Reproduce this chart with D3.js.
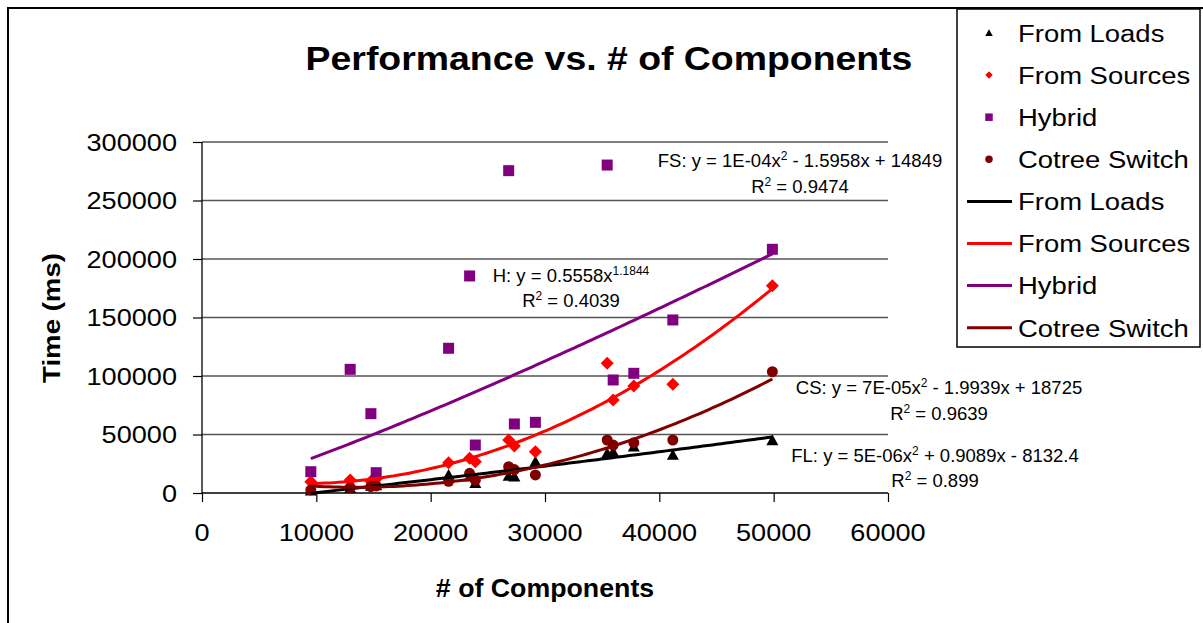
<!DOCTYPE html>
<html>
<head>
<meta charset="utf-8">
<script src="https://cdn.jsdelivr.net/npm/d3@7"></script>
<style>
  html, body { margin: 0; padding: 0; background: #fff; }
  svg { display: block; font-family: "Liberation Sans", Arial, sans-serif; }
</style>
</head>
<body>
<svg id="chart" width="1203" height="623"></svg>
<script>
// ---------------- data ----------------
const components = [9518, 12960, 14772, 15236, 21568, 23406, 23905, 26822, 27320, 29160, 35438, 35963, 37767, 41182, 49886];
const fromLoads    = [2000, 4000, 6000, 6500, 15400, 14000, 8300, 14500, 14000, 26800, 33900, 35000, 39600, 32500, 45000];
const fromSources  = [9700, 11100, 10000, 12000, 25900, 29700, 26800, 45300, 40200, 35300, 110900, 79500, 91500, 92900, 177200];
const hybrid       = [18200, 105700, 67800, 17350, 123700, 185500, 41000, 275500, 59000, 60400, 280300, 96600, 102300, 147900, 208300];
const cotreeSwitch = [2600, 4900, 5500, 6000, 10000, 16800, 11000, 22500, 20000, 15400, 45300, 41000, 43000, 45300, 103700];

const seriesNames = ["From Loads", "From Sources", "Hybrid", "Cotree Switch"];
const seriesColors = ["#000000", "#FF0000", "#800080", "#800000"];
const seriesShapes = ["triangle", "diamond", "square", "circle"];
const fitTypes = ["poly2", "poly2", "power", "poly2"];

const xTicks = [0, 10000, 20000, 30000, 40000, 50000, 60000];
const yTicks = [0, 50000, 100000, 150000, 200000, 250000, 300000];

const titleText = "Performance vs. # of Components";
const xTitle = "# of Components";
const yTitle = "Time (ms)";

// trendline labels: [prefix, superscript, suffix] and R² value
const eqLabels = [
  ["FL: y = 5E-06x", "2", " + 0.9089x - 8132.4"],
  ["FS: y = 1E-04x", "2", " - 1.5958x + 14849"],
  ["H: y = 0.5558x", "1.1844", ""],
  ["CS: y = 7E-05x", "2", " - 1.9939x + 18725"]
];
const r2Labels = ["0.899", "0.9474", "0.4039", "0.9639"];
// label anchor (centre x, baseline of equation line)
const eqPos = [[935, 461.5], [800, 167], [571, 281.5], [939, 394]];

// ---------------- helpers ----------------
function fitPoly2(xs, ys) {
  // normal equations for y = a x^2 + b x + c (scaled x for stability)
  const s = 1e4;
  let S = Array(5).fill(0), T = Array(3).fill(0);
  xs.forEach((x0, i) => {
    const x = x0 / s, y = ys[i];
    for (let k = 0; k < 5; k++) S[k] += Math.pow(x, k);
    for (let k = 0; k < 3; k++) T[k] += y * Math.pow(x, k);
  });
  const A = [[S[4], S[3], S[2], T[2]], [S[3], S[2], S[1], T[1]], [S[2], S[1], S[0], T[0]]];
  for (let i = 0; i < 3; i++) {
    let p = i;
    for (let r = i + 1; r < 3; r++) if (Math.abs(A[r][i]) > Math.abs(A[p][i])) p = r;
    [A[i], A[p]] = [A[p], A[i]];
    for (let r = 0; r < 3; r++) if (r !== i) {
      const f = A[r][i] / A[i][i];
      for (let c = i; c < 4; c++) A[r][c] -= f * A[i][c];
    }
  }
  const a = A[0][3] / A[0][0], b = A[1][3] / A[1][1], c = A[2][3] / A[2][2];
  return x => { const u = x / s; return a * u * u + b * u + c; };
}
function fitPower(xs, ys) {
  const lx = xs.map(Math.log), ly = ys.map(Math.log);
  const n = lx.length, mx = d3.mean(lx), my = d3.mean(ly);
  let num = 0, den = 0;
  for (let i = 0; i < n; i++) { num += (lx[i] - mx) * (ly[i] - my); den += (lx[i] - mx) ** 2; }
  const b = num / den, a = Math.exp(my - b * mx);
  return x => a * Math.pow(x, b);
}

function stretchText(parent, x, y, txt, opt) {
  const g = parent.append("g")
    .attr("transform", `translate(${x},${y}) rotate(${opt.rotate || 0}) scale(${opt.sx || 1},1)`);
  const t = g.append("text")
    .attr("text-anchor", opt.anchor || "start")
    .attr("font-size", opt.size)
    .attr("font-weight", opt.weight || "normal")
    .attr("fill", "#000")
    .text(txt);
  return t;
}

// ---------------- chart ----------------
const svg = d3.select("#chart");
const x = d3.scaleLinear().domain([0, 60000]).range([202, 888]);
const y = d3.scaleLinear().domain([0, 300000]).range([493, 142]);

// outer chart border
svg.append("rect").attr("x", 8).attr("y", 8).attr("width", 1400).attr("height", 800)
  .attr("fill", "#fff").attr("stroke", "#000").attr("stroke-width", 2);

// gridlines
svg.append("g").selectAll("line").data(yTicks.filter(d => d > 0)).join("line")
  .attr("x1", x(0)).attr("x2", x(60000)).attr("y1", d => y(d)).attr("y2", d => y(d))
  .attr("stroke", "#555").attr("stroke-width", 1.3);

// axes
const yAxis = d3.axisLeft(y).tickValues(yTicks).tickSize(9).tickFormat(d3.format("d"));
const gy = svg.append("g").attr("transform", `translate(${x(0)},0)`).call(yAxis);
const xAxis = d3.axisBottom(x).tickValues(xTicks).tickSize(9).tickFormat(d3.format("d"));
const gx = svg.append("g").attr("transform", `translate(0,${y(0)})`).call(xAxis);
[gx, gy].forEach(g => {
  g.selectAll(".domain").attr("stroke", "#000").attr("stroke-width", 1.3);
  g.selectAll(".tick line").attr("stroke", "#000").attr("stroke-width", 1.2);
  g.selectAll(".tick text").remove();
});
// domain path for axisBottom includes outer ticks; redraw clean
gx.select(".domain").attr("d", `M${x(0)},0H${x(60000)}`);
gy.select(".domain").attr("d", `M0,${y(300000)}V${y(0)}`);

// tick labels (stretched like the original rendering)
yTicks.forEach(v => stretchText(svg, 177, y(v) + 8.5, String(v), { size: 24, anchor: "end", sx: 1.13 }));
xTicks.forEach(v => stretchText(svg, x(v), 541, String(v), { size: 24, anchor: "middle", sx: 1.13 }));

// titles
stretchText(svg, 609, 70, titleText, { size: 34, weight: "bold", anchor: "middle", sx: 1.1 });
stretchText(svg, 545, 597, xTitle, { size: 25, weight: "bold", anchor: "middle", sx: 1.07 });
stretchText(svg, 60, 318, yTitle, { size: 24, weight: "bold", anchor: "middle", sx: 1.15, rotate: -90 });

// markers
const allSeries = [fromLoads, fromSources, hybrid, cotreeSwitch];
function markerPath(shape, size) {
  const h = size / 2;
  if (shape === "triangle") return `M0,${-h}L${h},${h * 0.8}L${-h},${h * 0.8}Z`;
  if (shape === "diamond") return `M0,${-h}L${h},0L0,${h}L${-h},0Z`;
  if (shape === "square") return `M${-h},${-h}H${h}V${h}H${-h}Z`;
  return d3.symbol(d3.symbolCircle, Math.PI * h * h)();
}
const markerSizes = [12, 13, 11, 11];
allSeries.forEach((vals, si) => {
  svg.append("g").selectAll("path").data(vals).join("path")
    .attr("transform", (d, i) => `translate(${x(components[i])},${y(d)})`)
    .attr("d", markerPath(seriesShapes[si], markerSizes[si]))
    .attr("fill", seriesColors[si]);
});

// trendlines
const line = d3.line().x(d => x(d[0])).y(d => y(d[1]));
allSeries.forEach((vals, si) => {
  const f = fitTypes[si] === "power" ? fitPower(components, vals) : fitPoly2(components, vals);
  const [lo, hi] = d3.extent(components);
  const pts = d3.range(0, 101).map(k => { const xv = lo + (hi - lo) * k / 100; return [xv, f(xv)]; });
  svg.append("path").datum(pts).attr("d", line)
    .attr("fill", "none").attr("stroke", seriesColors[si]).attr("stroke-width", 3);
});

// trendline equations
eqLabels.forEach((parts, i) => {
  const [cx, by] = eqPos[i];
  const t = svg.append("text").attr("x", cx).attr("y", by).attr("text-anchor", "middle")
    .attr("font-size", 18.5).attr("fill", "#000");
  t.append("tspan").text(parts[0]);
  t.append("tspan").attr("dy", -7).attr("font-size", 12).text(parts[1]);
  if (parts[2]) t.append("tspan").attr("dy", 7).text(parts[2]);
  const r = svg.append("text").attr("x", cx).attr("y", by + 25.5).attr("text-anchor", "middle")
    .attr("font-size", 18.5).attr("fill", "#000");
  r.append("tspan").text("R");
  r.append("tspan").attr("dy", -7).attr("font-size", 12).text("2");
  r.append("tspan").attr("dy", 7).text(" = " + r2Labels[i]);
});

// legend
const lg = svg.append("g");
lg.append("rect").attr("x", 957).attr("y", 9).attr("width", 243).attr("height", 338)
  .attr("fill", "#fff").attr("stroke", "#000").attr("stroke-width", 1.5);
const legendItems = [];
seriesNames.forEach((n, i) => legendItems.push({ name: n, kind: "marker", i }));
seriesNames.forEach((n, i) => legendItems.push({ name: n, kind: "line", i }));
legendItems.forEach((it, k) => {
  const cy = 33 + k * 42.1;
  if (it.kind === "marker") {
    lg.append("path").attr("transform", `translate(989,${cy})`)
      .attr("d", markerPath(seriesShapes[it.i], 7.5)).attr("fill", seriesColors[it.i]);
  } else {
    lg.append("line").attr("x1", 967).attr("x2", 1012).attr("y1", cy).attr("y2", cy)
      .attr("stroke", seriesColors[it.i]).attr("stroke-width", 3);
  }
  stretchText(lg, 1018, cy + 8.8, it.name, { size: 24.5, sx: 1.12 });
});
</script>
</body>
</html>
